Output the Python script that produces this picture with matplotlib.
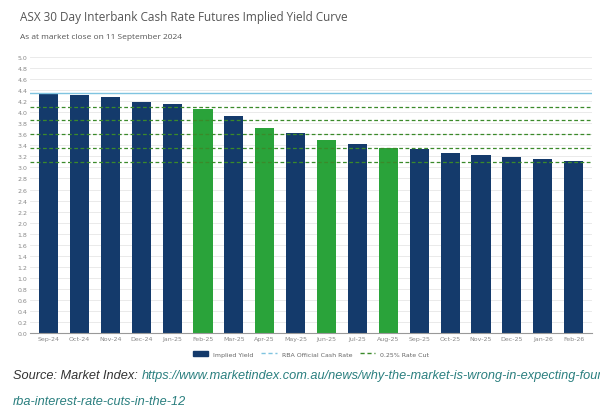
import matplotlib
matplotlib.use("Agg")
import matplotlib.pyplot as plt
from matplotlib.patches import Patch
from matplotlib.lines import Line2D

months = ["Sep-24","Oct-24","Nov-24","Dec-24","Jan-25","Feb-25","Mar-25","Apr-25","May-25",
          "Jun-25","Jul-25","Aug-25","Sep-25","Oct-25","Nov-25","Dec-25","Jan-26","Feb-26"]
implied = [4.33,4.31,4.27,4.18,4.14,4.06,3.94,3.71,3.62,3.49,3.43,3.36,3.33,3.26,3.22,3.19,3.16,3.12]
meeting = ["Feb-25","Apr-25","Jun-25","Aug-25"]
cash_rate = 4.35
cut_levels = [4.10,3.85,3.60,3.35,3.10]
yticks = [round(i*0.2,1) for i in range(26)]

navy = "#143a6b"; green = "#2aa33a"
fig = plt.figure(figsize=(6,4.14), dpi=100)
ax = fig.add_axes([0.05,0.193,0.937,0.667])
colors = [green if m in meeting else navy for m in months]
ax.bar(range(len(months)), implied, width=0.62, color=colors, zorder=2)
ax.axhline(cash_rate, color="#7fc4e0", lw=1, zorder=3)
for c in cut_levels:
    ax.axhline(c, color="#3b8a2a", lw=0.9, ls=(0,(3,2)), zorder=3)
ax.set_ylim(0,5.0); ax.set_xlim(-0.6,len(months)-0.4)
ax.set_yticks(yticks); ax.set_yticklabels([f"{t:.1f}" for t in yticks], fontsize=4.5, color="#888")
ax.set_xticks(range(len(months))); ax.set_xticklabels(months, fontsize=4.5, color="#888")
ax.tick_params(length=0, pad=2)
ax.grid(axis="y", color="#e6e6e6", lw=0.6, zorder=0)
for s in ["top","right","left"]: ax.spines[s].set_visible(False)
ax.spines["bottom"].set_color("#999")
handles=[Patch(color=navy,label="Implied Yield"),
         Line2D([],[],color="#7fc4e0",ls=(0,(3,2)),lw=1,label="RBA Official Cash Rate"),
         Line2D([],[],color="#3b8a2a",ls=(0,(3,2)),lw=1,label="0.25% Rate Cut")]
ax.legend(handles=handles, loc="upper center", bbox_to_anchor=(0.5,-0.045), ncol=3, frameon=False,
          fontsize=4.5, handlelength=2.5, columnspacing=1.2, labelcolor="#666")
fig.text(0.033,0.95,"ASX 30 Day Interbank Cash Rate Futures Implied Yield Curve", fontsize=8.5, color="#555", family="Open Sans")
fig.text(0.033,0.905,"As at market close on 11 September 2024", fontsize=6, color="#555", family="Open Sans")
t1 = fig.text(0.022,0.085,"Source: Market Index: ", fontsize=9.2, style="italic", color="#333", family="Liberation Sans")
fig.canvas.draw()
bb = t1.get_window_extent().transformed(fig.transFigure.inverted())
fig.text(bb.x1,0.085,"https://www.marketindex.com.au/news/why-the-market-is-wrong-in-expecting-four-", fontsize=9.2, style="italic", color="#2a7f7f", family="Liberation Sans")
fig.text(0.022,0.022,"rba-interest-rate-cuts-in-the-12", fontsize=9.2, style="italic", color="#2a7f7f", family="Liberation Sans")
fig.savefig("out.png", dpi=100)
